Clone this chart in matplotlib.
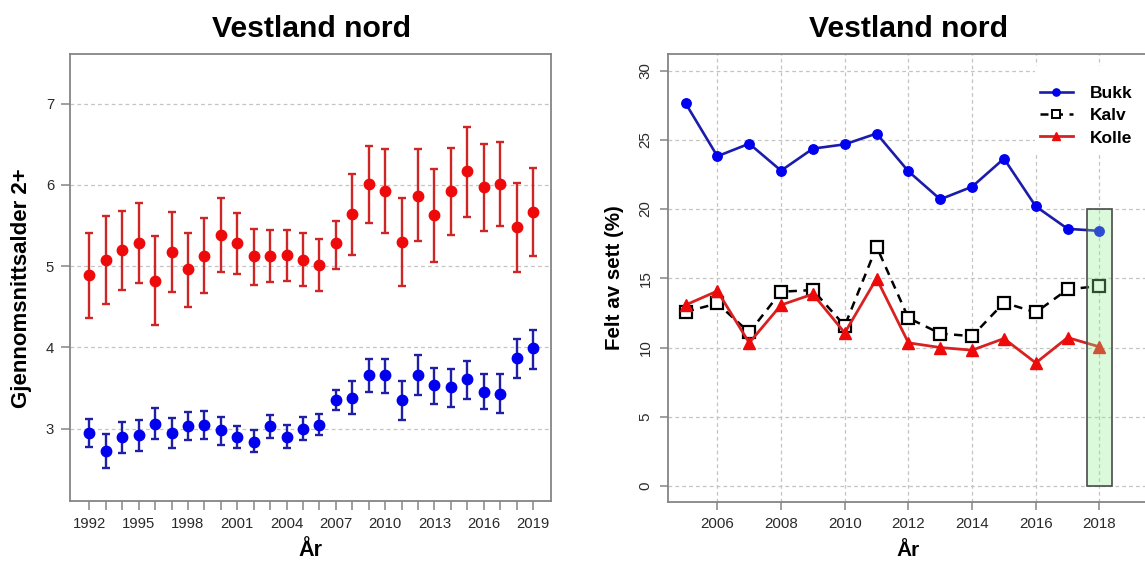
import matplotlib
matplotlib.use("Agg")
import matplotlib.pyplot as plt
from matplotlib.patches import Rectangle
from matplotlib.lines import Line2D

plt.rcParams['font.family'] = ['Liberation Sans', 'DejaVu Sans']

# ---------------- data: left panel ----------------
years_left = list(range(1992, 2020))
red_mean = [4.89, 5.08, 5.20, 5.29, 4.82, 5.18, 4.96, 5.13, 5.39, 5.28,
            5.12, 5.13, 5.14, 5.08, 5.01, 5.28, 5.64, 6.01, 5.92, 5.30,
            5.87, 5.63, 5.93, 6.17, 5.98, 6.01, 5.48, 5.67]
red_hi = [5.41, 5.62, 5.68, 5.78, 5.37, 5.67, 5.41, 5.59, 5.84, 5.65,
          5.46, 5.45, 5.45, 5.41, 5.33, 5.56, 6.13, 6.48, 6.44, 5.84,
          6.44, 6.20, 6.46, 6.71, 6.51, 6.53, 6.03, 6.21]
red_lo = [4.36, 4.54, 4.71, 4.79, 4.28, 4.68, 4.50, 4.67, 4.93, 4.91,
          4.77, 4.80, 4.82, 4.76, 4.70, 4.97, 5.14, 5.53, 5.41, 4.76,
          5.31, 5.05, 5.39, 5.61, 5.43, 5.49, 4.93, 5.12]
blue_mean = [2.95, 2.73, 2.90, 2.92, 3.06, 2.95, 3.03, 3.05, 2.98, 2.90,
             2.84, 3.03, 2.90, 3.00, 3.05, 3.35, 3.38, 3.66, 3.66, 3.35,
             3.66, 3.54, 3.51, 3.61, 3.45, 3.43, 3.87, 3.99]
blue_hi = [3.12, 2.93, 3.08, 3.11, 3.25, 3.13, 3.20, 3.22, 3.14, 3.03,
           2.99, 3.17, 3.04, 3.14, 3.18, 3.48, 3.59, 3.86, 3.86, 3.59,
           3.91, 3.75, 3.74, 3.83, 3.67, 3.67, 4.11, 4.21]
blue_lo = [2.78, 2.52, 2.70, 2.73, 2.87, 2.76, 2.86, 2.87, 2.80, 2.76,
           2.71, 2.89, 2.76, 2.86, 2.92, 3.23, 3.18, 3.45, 3.44, 3.11,
           3.42, 3.31, 3.27, 3.37, 3.24, 3.19, 3.63, 3.74]
left_xtick_labels = list(range(1992, 2020, 3))
left_yticks = [3, 4, 5, 6, 7]

# ---------------- data: right panel ----------------
years_right = list(range(2005, 2019))
bukk = [27.64, 23.81, 24.72, 22.77, 24.36, 24.67, 25.45, 22.72, 20.70,
        21.61, 23.64, 20.19, 18.57, 18.42]
kalv = [12.58, 13.18, 11.09, 14.03, 14.15, 11.57, 17.28, 12.13, 11.01,
        10.82, 13.24, 12.54, 14.20, 14.44]
kolle = [13.07, 14.08, 10.34, 13.07, 13.86, 11.06, 14.98, 10.34, 10.00,
         9.81, 10.65, 8.89, 10.72, 10.05]
right_xticks = list(range(2006, 2019, 2))
right_yticks = [0, 5, 10, 15, 20, 25, 30]
highlight_year = 2018
highlight_top = 20
series_names = ['Bukk', 'Kalv', 'Kolle']
title = 'Vestland nord'

W, H = 1145, 569
fig = plt.figure(figsize=(W / 100, H / 100), dpi=100)


def fx(px):
    return px / W


def fy(py):
    return 1 - py / H


spine_col = '#858585'
tick_lab_col = '#2a2a2a'
grid_col = '#c4c4c4'

# ---------------- left axes ----------------
axL = fig.add_axes([fx(70), fy(501), fx(551) - fx(70), fy(54.3) - fy(501)])
axL.set_xlim(1990.82, 2020.10)
axL.set_ylim(2.11, 7.608)
err_red = [[m - l for m, l in zip(red_mean, red_lo)], [h - m for m, h in zip(red_mean, red_hi)]]
err_blue = [[m - l for m, l in zip(blue_mean, blue_lo)], [h - m for m, h in zip(blue_mean, blue_hi)]]
axL.errorbar(years_left, red_mean, yerr=err_red, fmt='o', color='#ee0a0a', ecolor='#d02525',
             elinewidth=1.7, capsize=2.6, capthick=1.7, markersize=7.5, zorder=3)
axL.errorbar(years_left, blue_mean, yerr=err_blue, fmt='o', color='#0000ee', ecolor='#1f1fa5',
             elinewidth=1.7, capsize=2.6, capthick=1.7, markersize=7.5, zorder=3)
axL.set_xticks(years_left)
axL.set_xticklabels([str(y) if y in left_xtick_labels else '' for y in years_left])
axL.set_yticks(left_yticks)
axL.set_yticklabels([str(v) for v in left_yticks])
axL.yaxis.grid(True, linestyle=(0, (3, 2.5)), color=grid_col, linewidth=0.9)
axL.set_axisbelow(True)
for s in axL.spines.values():
    s.set_color(spine_col)
    s.set_linewidth(1.3)
axL.tick_params(axis='both', direction='out', length=6.5, width=1.1, color=spine_col,
                labelsize=10.7, labelcolor=tick_lab_col, pad=5)

fig.text(fx(312), fy(36.7), title, ha='center', va='baseline', fontsize=21.7, fontweight='bold')
fig.text(fx(310), fy(550), 'År', ha='center', va='center', fontsize=15.5, fontweight='bold')
fig.text(fx(21.7), fy(288), 'Gjennomsnittsalder 2+', ha='center', va='center', rotation=90,
         fontsize=16, fontweight='bold')

# ---------------- right axes ----------------
axR = fig.add_axes([fx(667.7), fy(501.7), fx(1181) - fx(667.7), fy(54.3) - fy(501.7)])
axR.set_xlim(2004.44, 2020.56)
axR.set_ylim(-1.13, 31.17)
axR.set_xticks(right_xticks)
axR.set_yticks(right_yticks)
axR.set_yticklabels([str(v) for v in right_yticks], rotation=90, va='center')
axR.grid(True, linestyle=(0, (3, 2.5)), color=grid_col, linewidth=0.9)
axR.set_axisbelow(True)
for s in axR.spines.values():
    s.set_color(spine_col)
    s.set_linewidth(1.3)
axR.tick_params(axis='both', direction='out', length=6, width=1.1, color=spine_col,
                labelsize=10.9, labelcolor=tick_lab_col, pad=5)

# white background behind legend (covers grid)
axR.add_patch(Rectangle((fx(1035), fy(152)), fx(1181) - fx(1035), fy(66) - fy(152),
                        transform=fig.transFigure, facecolor='white', edgecolor='none',
                        zorder=1.5, clip_on=False))

axR.plot(years_right, bukk, '-o', color='#1c1cab', markerfacecolor='#0000f0',
         markeredgecolor='#0000f0', lw=1.9, ms=6.8, zorder=3)
axR.plot(years_right, kalv, linestyle=(0, (3.4, 2.6)), color='black', marker='s', ms=8,
         markerfacecolor='white', markeredgecolor='black', mew=1.6, lw=1.8, zorder=3)
axR.plot(years_right, kolle, '-^', color='#d82222', markerfacecolor='#ee0a0a',
         markeredgecolor='#ee0a0a', lw=2.0, ms=8, zorder=3)

axR.add_patch(Rectangle((highlight_year - 0.4, 0), 0.8, highlight_top,
                        facecolor=(0.565, 0.933, 0.565, 0.32), edgecolor='#4a4a4a',
                        linewidth=1.2, zorder=5))

handles = [
    Line2D([], [], color='#1c1cab', marker='o', markerfacecolor='#0000f0', markeredgecolor='#0000f0',
           lw=1.9, ms=5.2),
    Line2D([], [], color='black', linestyle=(0, (3.2, 2.6)), marker='s', ms=6,
           markerfacecolor='white', markeredgecolor='black', mew=1.4, lw=1.8),
    Line2D([], [], color='#d82222', marker='^', markerfacecolor='#ee0a0a', markeredgecolor='#ee0a0a',
           lw=2.0, ms=6),
]
leg = axR.legend(handles, series_names, loc='upper left', bbox_to_anchor=(fx(1040), fy(85.5)),
                 bbox_transform=fig.transFigure, frameon=False, borderpad=0, borderaxespad=0,
                 handlelength=1.9, handletextpad=1.0, labelspacing=0.42,
                 prop={'size': 12.5, 'weight': 'bold'})
leg.set_zorder(6)

fig.text(fx(908.5), fy(36.7), title, ha='center', va='baseline', fontsize=21.7, fontweight='bold')
fig.text(fx(908.3), fy(550), 'År', ha='center', va='center', fontsize=15, fontweight='bold')
fig.text(fx(615), fy(278), 'Felt av sett (%)', ha='center', va='center', rotation=90,
         fontsize=14.8, fontweight='bold')

fig.savefig('out.png', dpi=100)
